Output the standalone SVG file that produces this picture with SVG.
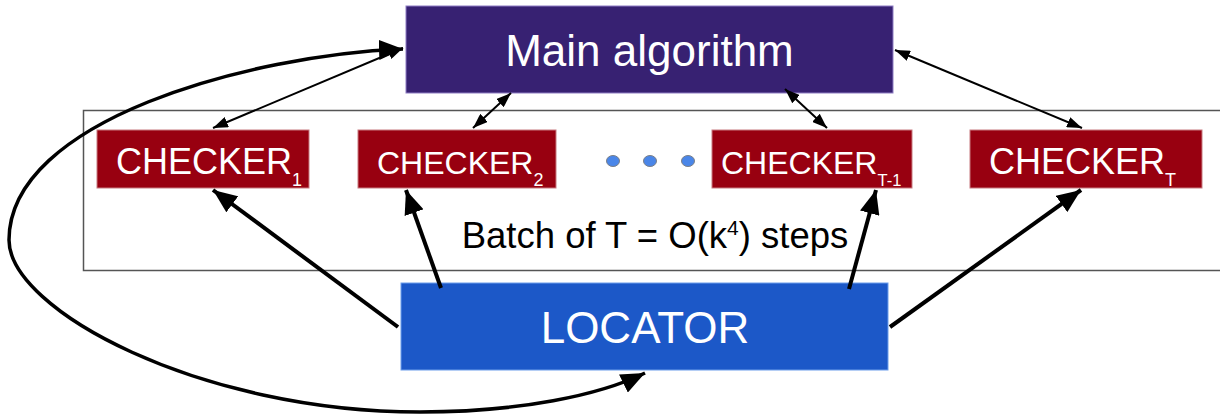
<svg xmlns="http://www.w3.org/2000/svg" width="1220" height="415" viewBox="0 0 1220 415">
<style>
  .lbl{font-family:"Liberation Sans",Arial,sans-serif;fill:#ffffff}
  .chk rect{fill:#980010;stroke:#c77a80;stroke-width:1}
  .chk text{font-family:"Liberation Sans",Arial,sans-serif;fill:#ffffff;font-size:36px}
  .thin{stroke:#000;stroke-width:2;fill:none;marker-start:url(#hs);marker-end:url(#hs)}
  .thick{stroke:#000;stroke-width:4;fill:none;marker-end:url(#hb)}
  .dot{fill:#4a86e8;stroke:#7a7f88;stroke-width:1}
</style>
<defs>
  <marker id="hs" markerUnits="userSpaceOnUse" markerWidth="15" markerHeight="11" refX="15" refY="5.5" orient="auto-start-reverse">
    <path d="M0,0 L15,5.5 L0,11 z" fill="#000"/>
  </marker>
  <marker id="hb" markerUnits="userSpaceOnUse" markerWidth="24" markerHeight="20" refX="24" refY="10" orient="auto-start-reverse">
    <path d="M0,0 L24,10 L0,20 z" fill="#000"/>
  </marker>
</defs>
<rect id="batch" x="83.5" y="110.5" width="1150" height="160" fill="none" stroke="#555" stroke-width="1.5"/>
<g id="main">
  <rect x="406" y="6" width="487" height="87" fill="#372172" stroke="#8e7cc3" stroke-width="1"/>
  <text class="lbl" x="649.5" y="66" font-size="44" text-anchor="middle">Main algorithm</text>
</g>
<g id="checker1" class="chk">
  <rect x="97" y="130" width="212" height="58"/>
  <text x="116" y="174">CHECKER<tspan font-size="18" dy="12">1</tspan></text>
</g>
<g id="checker2" class="chk">
  <rect x="358" y="130" width="198" height="58"/>
  <text x="377" y="174" style="font-size:32px">CHECKER<tspan font-size="18" dy="12">2</tspan></text>
</g>
<g id="dots">
  <ellipse class="dot" cx="613" cy="161" rx="6.5" ry="5.5"/>
  <ellipse class="dot" cx="650" cy="161" rx="6.5" ry="5.5"/>
  <ellipse class="dot" cx="688" cy="161" rx="6.5" ry="5.5"/>
</g>
<g id="checkerT1" class="chk">
  <rect x="712" y="130" width="200" height="58"/>
  <text x="721" y="174" style="font-size:32px">CHECKER<tspan font-size="16.5" dy="12">T-1</tspan></text>
</g>
<g id="checkerT" class="chk">
  <rect x="970" y="130" width="232" height="58"/>
  <text x="989" y="174">CHECKER<tspan font-size="18" dy="12">T</tspan></text>
</g>
<g id="locator">
  <rect x="401" y="283" width="487" height="87" fill="#1c58c8" stroke="#6d9eeb" stroke-width="1"/>
  <text class="lbl" x="645" y="343" font-size="44" text-anchor="middle">LOCATOR</text>
</g>
<text id="batchlabel" x="655" y="248" font-family="'Liberation Sans',Arial,sans-serif" font-size="36.5" fill="#000" text-anchor="middle">Batch of T = O(k<tspan font-size="21" dy="-13">4</tspan><tspan dy="13">) steps</tspan></text>
<g id="connectors">
  <line class="thin" x1="403" y1="48" x2="213" y2="128"/>
  <line class="thin" x1="511" y1="93" x2="473" y2="128"/>
  <line class="thin" x1="785" y1="89" x2="827" y2="128"/>
  <line class="thin" x1="895" y1="50" x2="1082" y2="128"/>
  <line class="thick" x1="398" y1="327" x2="213" y2="190"/>
  <line class="thick" x1="441" y1="288" x2="406" y2="190"/>
  <line class="thick" x1="849" y1="289" x2="876" y2="190"/>
  <line class="thick" x1="890" y1="327" x2="1081" y2="190"/>
  <path d="M403,49 C250,55 9,120 9,240 C9,310 200,412 420,412 C520,412 600,395 645,373" stroke="#000" stroke-width="3.5" fill="none" marker-start="url(#hb)" marker-end="url(#hb)"/>
</g>
</svg>
